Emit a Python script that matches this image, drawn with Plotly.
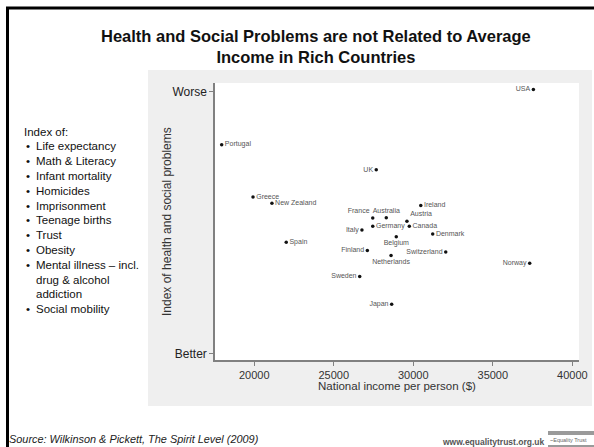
import plotly.graph_objects as go

# ---- data ----
countries = ["USA", "Portugal", "UK", "Greece", "New Zealand", "Ireland", "France",
             "Australia", "Austria", "Germany", "Canada", "Italy", "Denmark", "Belgium",
             "Spain", "Finland", "Switzerland", "Netherlands", "Norway", "Sweden", "Japan"]
income = [37550, 17950, 27670, 19920, 21110, 30470, 27450,
          28300, 29600, 27450, 29750, 26770, 31220, 28930,
          22010, 27110, 32040, 28600, 37320, 26630, 28640]
index_value = [10.08, 7.98, 7.02, 5.98, 5.75, 5.66, 5.18,
               5.19, 5.06, 4.87, 4.87, 4.73, 4.57, 4.47,
               4.26, 3.94, 3.89, 3.75, 3.46, 2.95, 1.90]
y_tick_vals = [0, 10]
y_tick_text = ["Better", "Worse"]
x_tick_vals = [20000, 25000, 30000, 35000, 40000]
index_items = ["Life expectancy", "Math & Literacy", "Infant mortality", "Homicides",
               "Imprisonment", "Teenage births", "Trust", "Obesity",
               "Mental illness \u2013 incl.", "drug & alcohol", "addiction", "Social mobility"]
bullet_flags = [True, True, True, True, True, True, True, True, True, False, False, True]

# ---- label placement (style) ----
label_pos = {
    "USA": "middle left", "Portugal": "middle right", "UK": "middle left",
    "Greece": "middle right", "New Zealand": "middle right", "Ireland": "middle right",
    "France": "top left", "Australia": "top center", "Austria": "top right",
    "Germany": "middle right", "Canada": "middle right", "Italy": "middle left",
    "Denmark": "middle right", "Belgium": "bottom center", "Spain": "middle right",
    "Finland": "middle left", "Switzerland": "middle left", "Netherlands": "bottom center",
    "Norway": "middle left", "Sweden": "middle left", "Japan": "middle left",
}

W, H = 594, 447
L, R, T, B = 215, 579, 83, 360  # plot area in pixels
FONT = "Arial, Liberation Sans, sans-serif"


def px(x):
    return (x - L) / (R - L)


def py(y):
    return (B - y) / (B - T)


def note(text, x, y, size, color="#111", xanchor="left", **kw):
    return dict(text=text, xref="paper", yref="paper", x=px(x), y=py(y),
                xanchor=xanchor, yanchor="middle", showarrow=False, borderpad=0,
                font=dict(size=size, color=color, family=FONT), **kw)


fig = go.Figure()
fig.add_trace(go.Scatter(
    x=income, y=index_value, mode="markers+text",
    text=countries, textposition=[label_pos[c] for c in countries],
    marker=dict(size=3.5, color="#111"),
    textfont=dict(size=7, color="#555", family=FONT),
    hoverinfo="skip", showlegend=False, cliponaxis=False,
))

shapes = [
    # grey panel
    dict(type="rect", xref="paper", yref="paper", x0=px(148), x1=px(592), y0=py(406), y1=py(70),
         fillcolor="#efefef", line=dict(width=0), layer="below"),
    # white plot area
    dict(type="rect", xref="paper", yref="paper", x0=0, x1=1, y0=0, y1=1,
         fillcolor="white", line=dict(width=0), layer="below"),
    # black frame lines
    dict(type="line", xref="paper", yref="paper", x0=px(6), x1=px(594), y0=py(8), y1=py(8),
         line=dict(color="black", width=3)),
    dict(type="line", xref="paper", yref="paper", x0=px(7.5), x1=px(7.5), y0=py(7), y1=py(447),
         line=dict(color="black", width=3)),
    # logo bars
    dict(type="rect", xref="paper", yref="paper", x0=px(548), x1=px(594), y0=py(435), y1=py(431),
         fillcolor="#9a9a9a", line=dict(width=0)),
    dict(type="rect", xref="paper", yref="paper", x0=px(548), x1=px(594), y0=py(447), y1=py(445),
         fillcolor="#9a9a9a", line=dict(width=0)),
]

annotations = [
    note("<b>Health and Social Problems are not Related to Average<br>Income in Rich Countries</b>",
         316, 47, 16.5, xanchor="center", align="center"),
    note("Index of health and social problems", 167, 222, 12, color="#333",
         xanchor="center", textangle=-90),
    note("National income per person ($)", 397, 386, 11.5, color="#333", xanchor="center"),
    note("Index of:", 23, 131.5, 11.5),
    note("<i>Source: Wilkinson &amp; Pickett, The Spirit Level (2009)</i>", 8, 439, 10.9, color="#222"),
    note("<b>www.equalitytrust.org.uk</b>", 545, 442, 8.5, color="#555", xanchor="right"),
    note("~Equality Trust", 549, 440, 5.5, color="#666"),
]
for i, (item, has_bullet) in enumerate(zip(index_items, bullet_flags)):
    yy = 146.3 + 14.8 * i
    if has_bullet:
        annotations.append(note("\u2022", 24.5, yy, 11.5))
    annotations.append(note(item, 35, yy, 11.5))

fig.update_layout(
    template="none",
    width=W, height=H,
    margin=dict(l=L, r=W - R, t=T, b=H - B, pad=0, autoexpand=False),
    paper_bgcolor="white", plot_bgcolor="white",
    font=dict(family=FONT, color="#222"),
    shapes=shapes, annotations=annotations,
    xaxis=dict(range=[17530, 40420], tickvals=x_tick_vals, showgrid=False, zeroline=False,
               automargin=False,
               showline=True, linecolor="#808080", linewidth=1.5, tickformat="d",
               ticks="outside", ticklen=4, tickcolor="#808080", tickwidth=1,
               tickfont=dict(size=11, color="#333", family=FONT)),
    yaxis=dict(range=[-0.23, 10.33], tickvals=y_tick_vals, ticktext=y_tick_text,
               showgrid=False, zeroline=False, automargin=False,
               showline=True, linecolor="#808080", linewidth=1.5,
               ticks="outside", ticklen=4, tickcolor="#808080", tickwidth=1,
               tickfont=dict(size=12, color="#222", family=FONT)),
)

fig.write_html("out.html")
